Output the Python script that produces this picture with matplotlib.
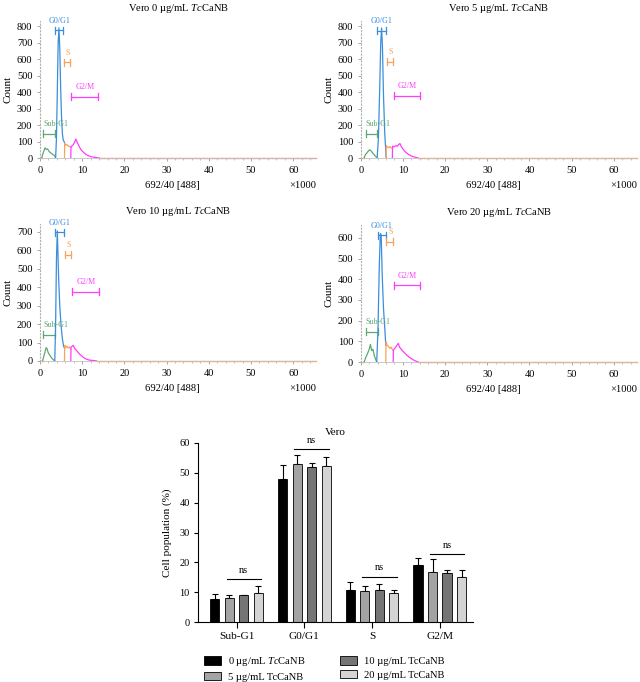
import matplotlib
matplotlib.use('Agg')
import matplotlib.pyplot as plt
from matplotlib.ticker import MultipleLocator
from matplotlib.patches import Patch

plt.rcParams['font.family'] = ['Liberation Serif', 'DejaVu Serif']
plt.rcParams['mathtext.fontset'] = 'custom'
plt.rcParams['mathtext.rm'] = 'Liberation Serif'
plt.rcParams['mathtext.it'] = 'Liberation Serif:italic'

# ---------------- DATA ----------------
panel_titles = [r'Vero 0 µg/mL $\mathit{Tc}$CaNB', r'Vero 5 µg/mL $\mathit{Tc}$CaNB',
                r'Vero 10 µg/mL $\mathit{Tc}$CaNB', r'Vero 20 µg/mL $\mathit{Tc}$CaNB']
gate_names = ['Sub-G1', 'G0/G1', 'S', 'G2/M']

# panel 0 (0 µg/mL)
p0_sub_x = [0.4, 0.8, 1.2, 1.5, 1.8, 2.2, 2.6, 3.0, 3.4, 3.7]
p0_sub_y = [0, 35, 62, 52, 55, 38, 30, 22, 15, 0]
p0_g1_x = [3.7, 3.9, 4.1, 4.3, 4.5, 4.7, 4.9, 5.1, 5.3, 5.5, 5.8]
p0_g1_y = [0, 120, 400, 700, 790, 650, 420, 250, 150, 110, 95]
p0_s_x = [5.8, 5.85, 6.1, 6.4, 6.7, 7.0, 7.3]
p0_s_y = [0, 90, 78, 82, 72, 70, 65]
p0_g2_x = [7.3, 7.35, 7.7, 8.1, 8.5, 8.8, 9.2, 9.6, 10.0, 10.5, 11.0, 11.5, 12.0, 12.5, 13.0, 13.5, 14.0]
p0_g2_y = [0, 70, 75, 90, 115, 95, 75, 55, 42, 30, 20, 14, 9, 6, 4, 2, 0]
# panel 1 (5 µg/mL)
p1_sub_x = [0.8, 1.1, 1.5, 1.8, 2.1, 2.4, 2.8, 3.2, 3.6, 3.9]
p1_sub_y = [0, 20, 32, 42, 50, 45, 32, 20, 8, 3]
p1_g1_x = [3.9, 4.2, 4.5, 4.75, 4.95, 5.15, 5.4, 5.7, 5.95, 6.0]
p1_g1_y = [3, 120, 420, 700, 790, 680, 380, 150, 40, 0]
p1_s_x = [6.0, 6.05, 6.3, 6.6, 6.9, 7.2, 7.5]
p1_s_y = [0, 75, 68, 62, 70, 62, 60]
p1_g2_x = [7.5, 7.55, 7.9, 8.3, 8.7, 9.0, 9.3, 9.6, 10.0, 10.4, 10.8, 11.2, 11.6, 12.0, 12.5, 13.0, 13.6]
p1_g2_y = [0, 72, 68, 75, 72, 82, 88, 70, 55, 42, 32, 24, 18, 12, 8, 4, 0]
# panel 2 (10 µg/mL)
p2_sub_x = [0.6, 0.9, 1.2, 1.45, 1.65, 1.9, 2.3, 2.7, 3.1, 3.5]
p2_sub_y = [0, 25, 50, 72, 68, 48, 32, 18, 8, 0]
p2_g1_x = [3.5, 3.7, 3.9, 4.1, 4.4, 4.7, 5.0, 5.3, 5.6, 5.8]
p2_g1_y = [0, 200, 550, 705, 460, 290, 190, 120, 80, 70]
p2_s_x = [5.8, 5.85, 6.1, 6.4, 6.7, 7.0, 7.3]
p2_s_y = [0, 85, 72, 80, 70, 76, 65]
p2_g2_x = [7.3, 7.35, 7.6, 7.9, 8.2, 8.6, 9.0, 9.5, 10.0, 10.5, 11.0, 11.5, 12.0, 12.5, 13.0, 13.4]
p2_g2_y = [0, 75, 80, 85, 68, 58, 48, 35, 25, 16, 10, 6, 4, 3, 2, 0]
# panel 3 (20 µg/mL)
p3_sub_x = [0.8, 1.2, 1.6, 2.0, 2.3, 2.6, 2.9, 3.2, 3.5, 3.8]
p3_sub_y = [0, 22, 40, 60, 85, 55, 62, 32, 15, 0]
p3_g1_x = [3.8, 4.1, 4.4, 4.65, 4.85, 5.1, 5.4, 5.7, 5.95]
p3_g1_y = [0, 160, 460, 620, 615, 420, 260, 165, 80]
p3_s_x = [5.95, 6.0, 6.3, 6.6, 6.9, 7.2, 7.5, 7.7]
p3_s_y = [0, 98, 80, 75, 66, 72, 60, 55]
p3_g2_x = [7.7, 7.75, 8.1, 8.5, 8.9, 9.2, 9.6, 10.0, 10.5, 11.0, 11.5, 12.0, 12.5, 13.0, 13.6]
p3_g2_y = [0, 58, 66, 78, 90, 72, 62, 52, 42, 32, 23, 16, 10, 5, 0]

# gate ranges (x0, x1, level) for Sub-G1, G0/G1, S, G2/M
p0_gates = [(0.8, 3.55, 146), (3.55, 5.5, 777), (5.6, 7.2, 581), (7.4, 13.8, 372)]
p1_gates = [(1.2, 3.95, 146), (3.95, 6.0, 773), (6.2, 7.7, 585), (7.9, 14.0, 377)]
p2_gates = [(0.8, 3.55, 141), (3.55, 5.7, 698), (5.9, 7.35, 575), (7.66, 14.0, 376)]
p3_gates = [(1.25, 4.0, 146), (4.0, 6.0, 613), (6.1, 7.7, 581), (7.97, 14.05, 372)]

x_max = 65.5
y_tops = [830, 830, 740, 660]

# bar chart data
groups = ['Sub-G1', 'G0/G1', 'S', 'G2/M']
legend_labels = [r'0 µg/mL $\mathit{Tc}$CaNB', '5 µg/mL TcCaNB', '10 µg/mL TcCaNB', '20 µg/mL TcCaNB']
mean_0 = [7.7, 48.1, 10.7, 19.2]
mean_5 = [8.2, 53.0, 10.3, 16.8]
mean_10 = [8.9, 51.9, 10.6, 16.3]
mean_20 = [9.8, 52.4, 9.7, 15.0]
sd_0 = [1.7, 4.5, 2.7, 2.1]
sd_5 = [1.0, 3.0, 1.9, 4.3]
sd_10 = [0.15, 1.4, 2.1, 1.1]
sd_20 = [2.4, 3.0, 0.9, 2.3]
ns_levels = [14.4, 58.0, 15.2, 22.8]

# ---------------- FIGURE ----------------
W, H = 640, 682
fig = plt.figure(figsize=(W / 100, H / 100), dpi=100)

def fx(px):
    return px / W

def fy(py):
    return 1 - py / H

c_sub = '#5aaa72'
c_g1 = '#3a8edc'
c_s = '#f7a35c'
c_g2 = '#ff3cff'
gate_colors = [c_sub, c_g1, c_s, c_g2]
base_colors = ['#f09090', '#f7a35c', '#f7a35c', '#f7a35c']

panels = [
    (p0_sub_x, p0_sub_y, p0_g1_x, p0_g1_y, p0_s_x, p0_s_y, p0_g2_x, p0_g2_y, p0_gates),
    (p1_sub_x, p1_sub_y, p1_g1_x, p1_g1_y, p1_s_x, p1_s_y, p1_g2_x, p1_g2_y, p1_gates),
    (p2_sub_x, p2_sub_y, p2_g1_x, p2_g1_y, p2_s_x, p2_s_y, p2_g2_x, p2_g2_y, p2_gates),
    (p3_sub_x, p3_sub_y, p3_g1_x, p3_g1_y, p3_s_x, p3_s_y, p3_g2_x, p3_g2_y, p3_gates),
]
lefts_px = [40, 360.7, 40, 360.7]
bottoms_px = [158, 158, 361, 362]
ax_w_px = 276.4
ax_h_px = 136.6

for i, (sx, sy, gx, gy, ssx, ssy, g2x, g2y, gates) in enumerate(panels):
    lp, bp = lefts_px[i], bottoms_px[i]
    ax = fig.add_axes([fx(lp), fy(bp), ax_w_px / W, ax_h_px / H])
    ax.set_xlim(0, x_max)
    ax.set_ylim(0, y_tops[i])
    # baseline (rest of histogram)
    ax.plot([g2x[-1], x_max], [0, 0], color=base_colors[i], lw=1.0, clip_on=False, zorder=2)
    ax.plot([0, sx[0]], [0, 0], color=base_colors[i], lw=1.0, clip_on=False, zorder=2)
    ax.plot(sx, sy, color=c_sub, lw=0.9, zorder=3)
    ax.plot(gx, gy, color=c_g1, lw=0.9, zorder=3)
    ax.plot(ssx, ssy, color=c_s, lw=0.9, zorder=3)
    ax.plot(g2x, g2y, color=c_g2, lw=0.9, zorder=3)
    # gate markers
    d = 3.5 * y_tops[i] / ax_h_px
    off = 9.5 * y_tops[i] / ax_h_px
    for k, (x0, x1, lev) in enumerate(gates):
        col = gate_colors[k]
        ax.plot([x0, x1], [lev, lev], color=col, lw=0.9, clip_on=False)
        ax.plot([x0, x0], [lev - d, lev + d], color=col, lw=0.9, clip_on=False)
        ax.plot([x1, x1], [lev - d, lev + d], color=col, lw=0.9, clip_on=False)
        if k == 0:
            ax.text(x0, lev + off, gate_names[k], color=col, fontsize=5.8,
                    ha='left', va='center', clip_on=False)
        elif k == 2:
            ax.text((x0 + x1) / 2 + 0.2, lev + off, gate_names[k], color=col, fontsize=5.8,
                    ha='center', va='center', clip_on=False)
        else:
            ax.text((x0 + x1) / 2, lev + off, gate_names[k], color=col, fontsize=5.8,
                    ha='center', va='center', clip_on=False)
    for s in ['top', 'right']:
        ax.spines[s].set_visible(False)
    ax.spines['left'].set_linestyle((0, (1, 2)))
    ax.spines['left'].set_color('#b0b0b0')
    ax.spines['left'].set_linewidth(0.8)
    ax.spines['bottom'].set_color('#c0c0c0')
    ax.spines['bottom'].set_linewidth(0.6)
    ax.xaxis.set_major_locator(MultipleLocator(10))
    ax.xaxis.set_minor_locator(MultipleLocator(2))
    ax.yaxis.set_major_locator(MultipleLocator(100))
    ax.tick_params(axis='both', which='major', direction='out', length=2.5, width=0.6,
                   color='#999999', labelsize=7.5, pad=3)
    ax.tick_params(axis='x', which='minor', direction='out', length=1.5, width=0.5, color='#aaaaaa')
    ax.set_title(panel_titles[i], fontsize=7.6, pad=7.5)
    ax.set_ylabel('Count', fontsize=8, labelpad=3)
    ax.text(0.5 - 0.02, -0.2, '692/40 [488]', transform=ax.transAxes, fontsize=7.6,
            ha='center', va='center')
    ax.text(1.0, -0.2, '×1000', transform=ax.transAxes, fontsize=7.6,
            ha='right', va='center')

# ---------------- BAR CHART ----------------
bx = fig.add_axes([fx(198), fy(622), (473 - 198) / W, (622 - 443) / H])
pos = list(range(len(groups)))
bar_w = 0.135
offsets = [-0.321, -0.107, 0.107, 0.321]
bar_colors = ['#000000', '#a3a3a3', '#757575', '#d4d4d4']
all_means = [mean_0, mean_5, mean_10, mean_20]
all_sds = [sd_0, sd_5, sd_10, sd_20]
handles = []
for j in range(4):
    xs = [p + offsets[j] for p in pos]
    bx.bar(xs, all_means[j], width=bar_w, color=bar_colors[j], edgecolor='black', linewidth=0.6, zorder=2)
    bx.errorbar(xs, all_means[j], yerr=[[0] * 4, all_sds[j]], fmt='none', ecolor='black',
                elinewidth=0.8, capsize=2.2, capthick=0.8, zorder=1)
    handles.append(Patch(facecolor=bar_colors[j], edgecolor='black', linewidth=0.6))
for p, lev in zip(pos, ns_levels):
    bx.plot([p + offsets[1] - 0.04, p + offsets[3] + 0.04], [lev, lev], color='black', lw=0.8)
    bx.text(p + (offsets[1] + offsets[3]) / 2, lev + 1.4, 'ns', fontsize=7.5, ha='center', va='bottom')
bx.set_xlim(-0.57, 3.49)
bx.set_ylim(0, 60)
bx.set_xticks(pos)
bx.set_xticklabels(groups)
bx.yaxis.set_major_locator(MultipleLocator(10))
for s in ['top', 'right']:
    bx.spines[s].set_visible(False)
for s in ['left', 'bottom']:
    bx.spines[s].set_linewidth(0.8)
bx.tick_params(axis='y', direction='out', length=3, width=0.8, labelsize=7.5, pad=3)
bx.tick_params(axis='x', direction='out', length=4, width=0.8, labelsize=8.2, pad=3)
bx.set_ylabel('Cell population (%)', fontsize=8, labelpad=5)
bx.set_title('Vero', fontsize=8, pad=6)

fig.legend(handles, legend_labels, loc='upper left', bbox_to_anchor=(fx(204), fy(655)),
           ncol=2, frameon=False, fontsize=7.6, handlelength=1.65, handleheight=0.85,
           handletextpad=0.6, columnspacing=3.3, labelspacing=0.35, borderpad=0, borderaxespad=0)

fig.savefig('out.png', dpi=100)
